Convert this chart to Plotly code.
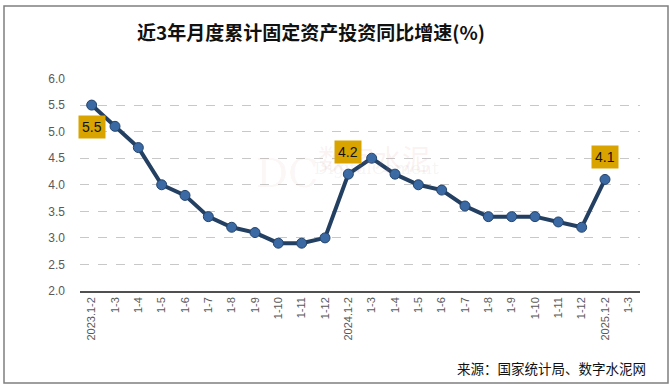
import plotly.graph_objects as go

categories = ["2023.1-2", "1-3", "1-4", "1-5", "1-6", "1-7", "1-8", "1-9", "1-10", "1-11", "1-12",
              "2024.1-2", "1-3", "1-4", "1-5", "1-6", "1-7", "1-8", "1-9", "1-10", "1-11", "1-12",
              "2025.1-2", "1-3"]
values = [5.5, 5.1, 4.7, 4.0, 3.8, 3.4, 3.2, 3.1, 2.9, 2.9, 3.0,
          4.2, 4.5, 4.2, 4.0, 3.9, 3.6, 3.4, 3.4, 3.4, 3.3, 3.2,
          4.1, None]
labelled = [0, 11, 22]
label_offsets = [22, -22, -22]

xs = list(range(len(categories)))

L, R, T, B = 80, 32, 78, 99
W, H = 672, 390
pw, ph = W - L - R, H - T - B


def px_x(p):
    return (p - L) / pw


def px_y(p):
    return (H - B - p) / ph


fig = go.Figure()
fig.add_trace(go.Scatter(
    x=xs, y=values, mode="lines+markers",
    line=dict(color="#233F62", width=4),
    marker=dict(size=10, color="#3A69A3", line=dict(color="#24446C", width=1)),
    connectgaps=False, showlegend=False, hoverinfo="skip"))

# watermark (faint, as in the reference)
fig.add_annotation(x=px_x(374), y=px_y(136), xref="paper", yref="paper", text="数字水泥", showarrow=False,
                   font=dict(size=28, color="rgba(220,120,120,0.10)", family="Noto Sans CJK SC"))
fig.add_annotation(x=px_x(376), y=px_y(168), xref="paper", yref="paper", text="DigitalCement", showarrow=False,
                   font=dict(size=17, color="rgba(150,150,150,0.10)", family="DejaVu Serif"))
fig.add_annotation(x=px_x(287), y=px_y(148), xref="paper", yref="paper", text="DC", showarrow=False,
                   font=dict(size=40, color="rgba(200,130,130,0.08)", family="DejaVu Serif"))

for i, off in zip(labelled, label_offsets):
    fig.add_annotation(x=i, y=values[i], xref="x", yref="y", text=f"{values[i]:.1f}",
                       showarrow=False, yshift=-off, bgcolor="#D9A400",
                       font=dict(size=14, color="#111111", family="Liberation Sans, Arial"),
                       borderpad=3)

fig.add_annotation(x=px_x(648), y=px_y(368), xref="paper", yref="paper", text="来源：国家统计局、数字水泥网",
                   showarrow=False, xanchor="right", yanchor="middle",
                   font=dict(size=13.5, color="#111111", family="Noto Sans CJK SC"))

fig.add_shape(type="rect", xref="paper", yref="paper",
              x0=px_x(4), x1=px_x(668), y0=px_y(383), y1=px_y(6),
              line=dict(color="#7F7F7F", width=1.5), fillcolor="rgba(0,0,0,0)", layer="above")

fig.update_layout(
    width=W, height=H,
    margin=dict(l=L, r=R, t=T, b=B),
    paper_bgcolor="white", plot_bgcolor="white",
    title=dict(text="<b>近3年月度累计固定资产投资同比增速(%)</b>", x=311 / W, xanchor="center",
               y=1 - 33 / H, yanchor="middle",
               font=dict(size=19, color="#111111", family="Noto Sans CJK SC")),
    xaxis=dict(tickmode="array", tickvals=xs, ticktext=categories, tickangle=-90,
               range=[-0.5, len(categories) - 0.5], showgrid=False, zeroline=False,
               showline=True, linecolor="#505050", linewidth=1.5, ticks="",
               tickfont=dict(size=11, color="#595959", family="Liberation Sans, Arial")),
    yaxis=dict(range=[2, 6.01], dtick=0.5, tick0=2, tickformat=".1f", showgrid=True, gridcolor="#C8C8C8",
               griddash="dash", gridwidth=1, zeroline=False, showline=False, ticks="",
               ticklabelstandoff=14,
               tickfont=dict(size=12, color="#595959", family="Liberation Sans, Arial")),
)

fig.write_html("out.html", config={"displayModeBar": False},
               post_script="document.body.style.margin='0';document.body.style.overflow='hidden';")
